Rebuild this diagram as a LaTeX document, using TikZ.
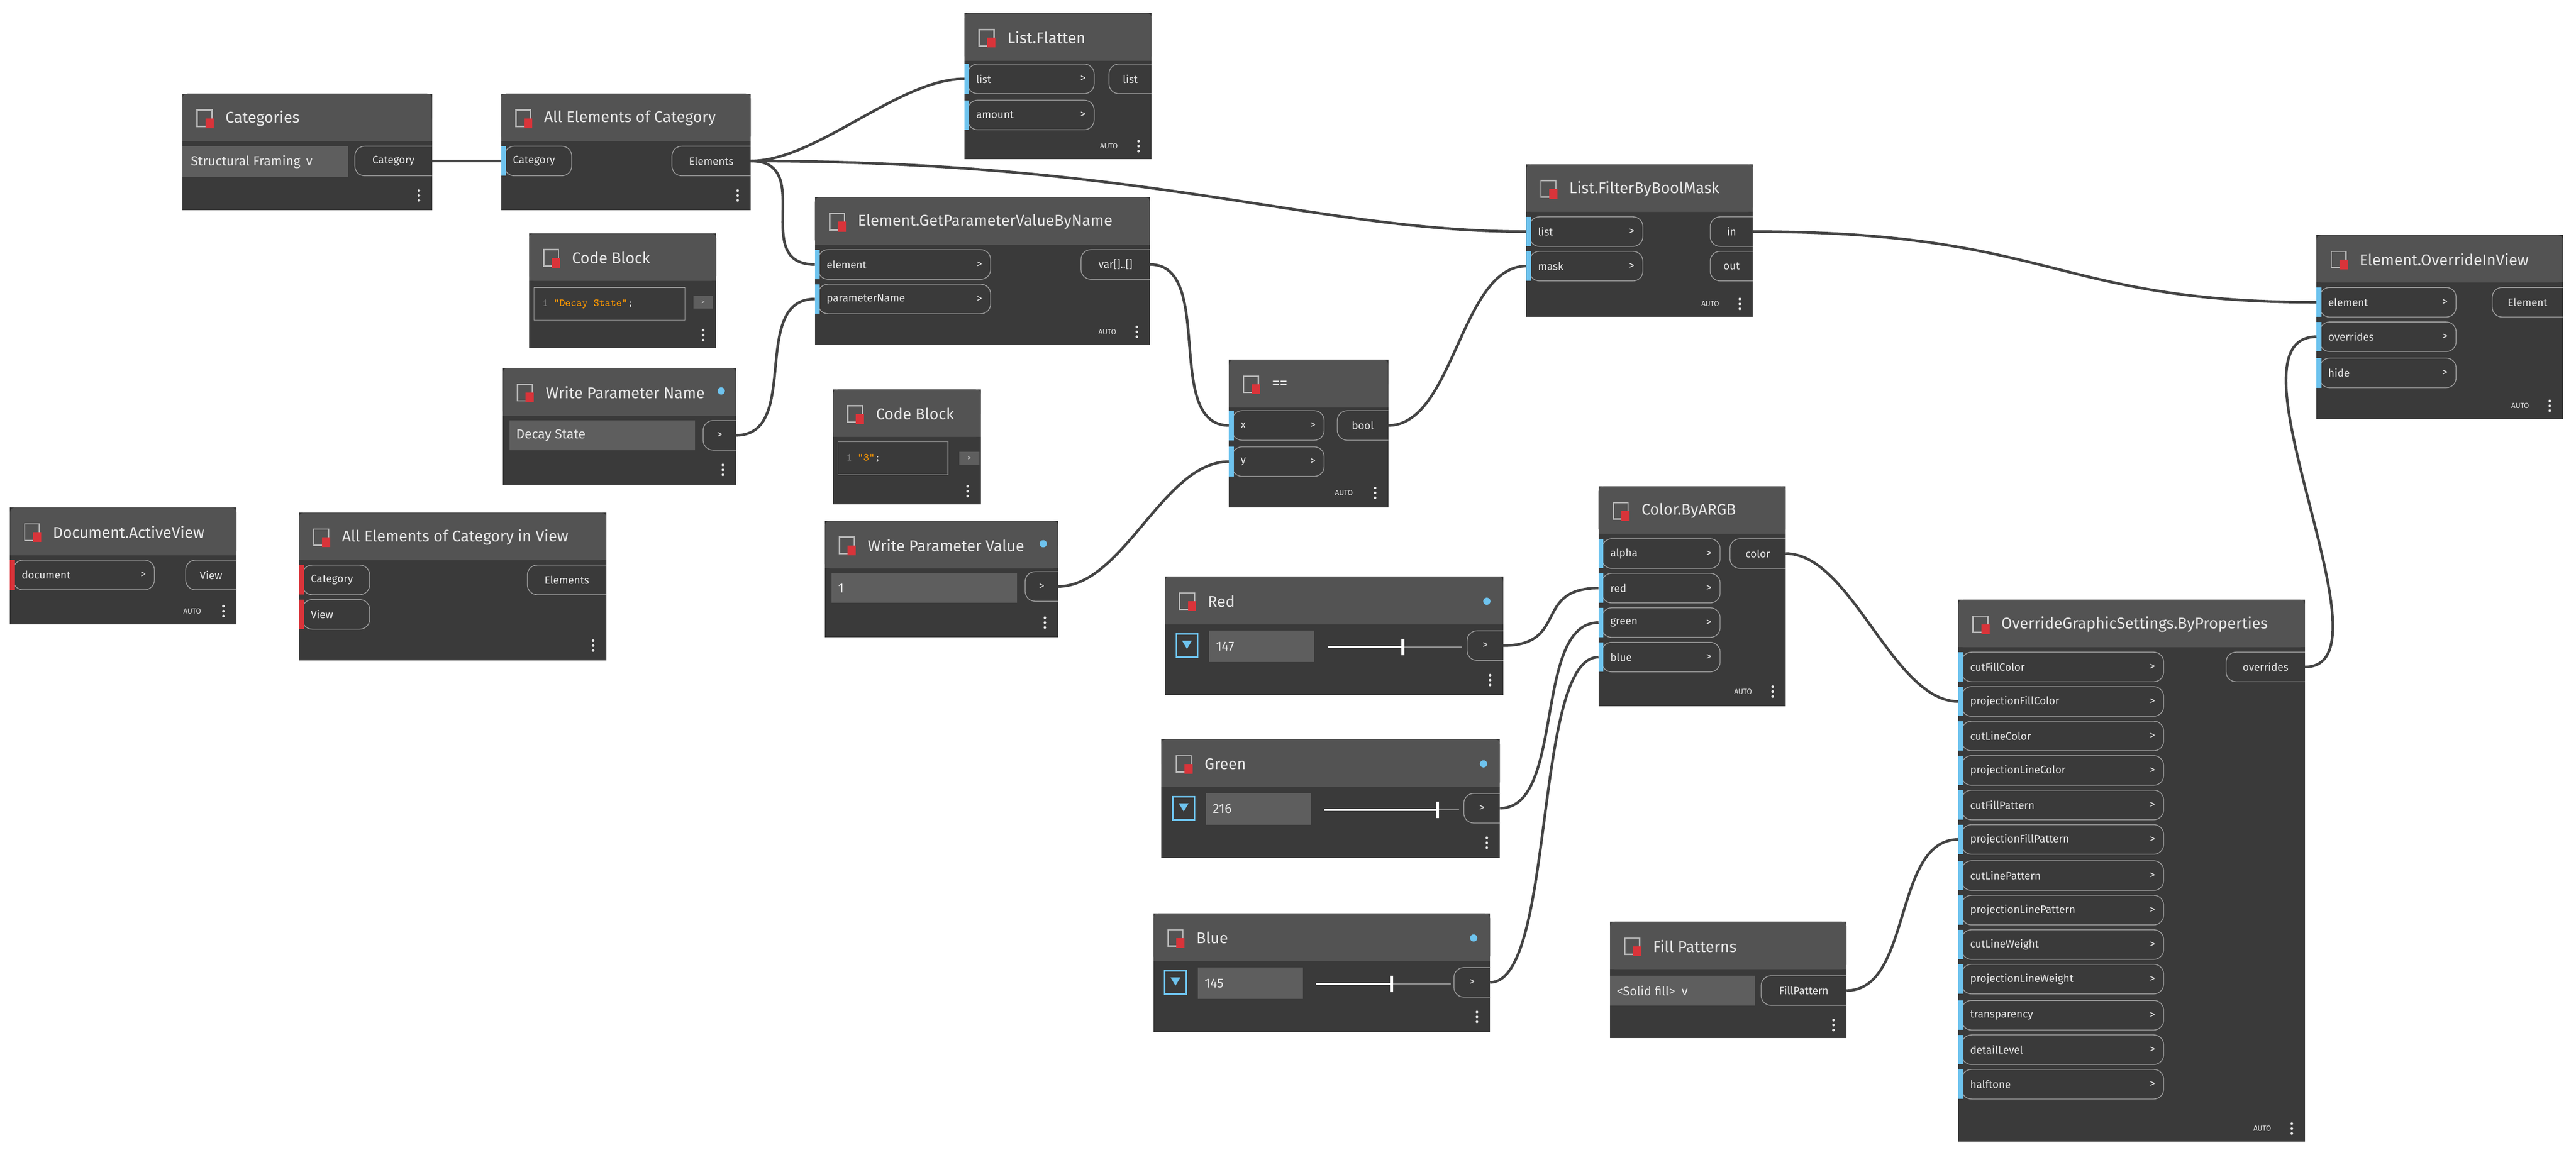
\documentclass[tikz,border=0pt]{standalone}
\usepackage{fontspec}
\setmainfont{Fira Sans}
\usetikzlibrary{calc}
\definecolor{body}{HTML}{3A3A3A}
\definecolor{head}{HTML}{535353}
\definecolor{txt}{HTML}{E6E6E6}
\definecolor{pill}{HTML}{9A9A9A}
\definecolor{port}{HTML}{6EC3EE}
\definecolor{wire}{HTML}{444444}
\definecolor{field}{HTML}{5E5E5E}
\definecolor{iconred}{HTML}{D9343A}
\tikzset{
 title/.style={anchor=west,text=txt,font=\fontsize{9.5}{10}\selectfont,inner sep=0},
 plab/.style={text=txt,font=\fontsize{6.5}{7}\selectfont,inner sep=0},
 pillst/.style={draw=pill,line width=0.5pt,rounded corners=6pt},
 wirest/.style={draw=wire,line width=1.6pt},
 autost/.style={text=txt,font=\fontsize{4.5}{5}\selectfont,inner sep=0},
}
\newcommand\dnode[6]{%
 \fill[body] (#2,#3) rectangle ++(#4,#5);
 \fill[head,rounded corners=3pt] (#2,#3) rectangle ++(#4,29);
 \fill[head] (#2,#3+15) rectangle ++(#4,14);
 \draw[txt!80!black,line width=0.8pt] (#2+9,#3+10) rectangle ++(9,10);
 \fill[iconred] (#2+14,#3+15) rectangle ++(5,6);
 \node[title] (#1) at (#2+26,#3+15) {#6};}
\newcommand\menudots[2]{\foreach \k in {-3,0,3}{\fill[txt] (#1,#2+\k) circle (0.8);}}
\newcommand\inport[5]{%
 \draw[pillst] (#2+2,#3-9) rectangle (#2+#4,#3+9);
 \fill[port] (#2,#3-9) rectangle ++(3,18);
 \node[plab,anchor=west] at (#2+7,#3) {#5};
 \node[plab,anchor=east] at (#2+#4-5,#3) {>};
 \coordinate (#1) at (#2,#3);}
\newcommand\inportb[5]{%
 \draw[pillst] (#2+2,#3-9) rectangle (#2+#4,#3+9);
 \fill[port] (#2,#3-9) rectangle ++(3,18);
 \node[plab,anchor=west] at (#2+7,#3) {#5};
 \coordinate (#1) at (#2,#3);}
\newcommand\inportr[5]{%
 \draw[pillst] (#2+2,#3-9) rectangle (#2+#4,#3+9);
 \fill[iconred] (#2,#3-9) rectangle ++(3,18);
 \node[plab,anchor=west] at (#2+7,#3) {#5};
 \coordinate (#1) at (#2,#3);}
\newcommand\inportrr[5]{%
 \draw[pillst] (#2+2,#3-9) rectangle (#2+#4,#3+9);
 \fill[iconred] (#2,#3-9) rectangle ++(3,18);
 \node[plab,anchor=west] at (#2+7,#3) {#5};
 \node[plab,anchor=east] at (#2+#4-5,#3) {>};
 \coordinate (#1) at (#2,#3);}
\newcommand\outport[5]{%
 \draw[pillst] (#2+6,#3-9) -- (#2-#4,#3-9) -- (#2-#4,#3+9) -- (#2+6,#3+9);
 \node[plab] at (#2-#4/2,#3) {#5};
 \coordinate (#1) at (#2,#3);}
\newcommand\wire[2]{\draw[wirest] (#1) .. controls ($(#1)+(40,0)$) and ($(#2)-(40,0)$) .. (#2);}
\begin{document}
\begin{tikzpicture}[x=1pt,y=-1pt]
\fill[white] (0,0) rectangle (1568,703);
\useasboundingbox (0,0) rectangle (1568,703);

\dnode{cat}{111}{57}{152}{71}{Categories}
\fill[field] (111,89) rectangle (212,108);
\node[plab,anchor=west,font=\fontsize{8}{8}\selectfont] at (116,98.5) {Structural Framing \,v};
\begin{scope}\clip (111,80) rectangle (263,120);
\outport{catO}{263}{98}{47}{Category}\end{scope}
\menudots{255}{119}

\dnode{aec}{305}{57}{152}{71}{All Elements of Category}
\begin{scope}\clip (305,80) rectangle (457,120);
\inportb{aecI}{305}{98}{43}{Category}
\outport{aecO}{457}{98}{48}{Elements}\end{scope}
\menudots{449}{119}

\dnode{fl}{587}{8}{114}{89}{List.Flatten}
\begin{scope}\clip (587,30) rectangle (701,97);
\inport{flI1}{587}{48}{79}{list}
\inport{flI2}{587}{70}{79}{amount}
\outport{flO}{701}{48}{26}{list}\end{scope}
\node[autost] at (675,89) {AUTO}; \menudots{693}{89}

\dnode{gp}{496}{120}{204}{90}{Element.GetParameterValueByName}
\begin{scope}\clip (496,140) rectangle (700,210);
\inport{gpI1}{496}{161}{107}{element}
\inport{gpI2}{496}{182}{107}{parameterName}
\outport{gpO}{700}{161}{42}{var[]..[]}\end{scope}
\node[autost] at (674,202) {AUTO}; \menudots{692}{202}

\dnode{cb1}{322}{142}{114}{70}{Code Block}
\draw[pill,fill=body] (325,175) rectangle (417,195);
\node[plab,anchor=west,font=\fontsize{6.5}{7}\ttfamily] at (330,185) {\textcolor{gray}{1} \textcolor{orange!80!yellow}{"Decay State"};};
\fill[field] (422,180) rectangle (434,188); \node[plab,font=\fontsize{4}{4}\selectfont] at (428,184) {>};
\menudots{428}{204}

\dnode{wpn}{306}{224}{142}{71}{Write Parameter Name}
\fill[port] (439,238) circle (2.2);
\fill[field] (310,256) rectangle (423,274);
\node[plab,anchor=west,font=\fontsize{8}{8}\selectfont] at (314,265) {Decay State};
\begin{scope}\clip (306,250) rectangle (448,285);
\outport{wpnO}{448}{265}{20}{>}\end{scope}
\menudots{440}{286}

\dnode{cb2}{507}{237}{90}{70}{Code Block}
\draw[pill,fill=body] (510,269) rectangle (577,289);
\node[plab,anchor=west,font=\fontsize{6.5}{7}\ttfamily] at (515,279) {\textcolor{gray}{1} \textcolor{orange!80!yellow}{"3"};};
\fill[field] (584,275) rectangle (596,283); \node[plab,font=\fontsize{4}{4}\selectfont] at (590,279) {>};
\menudots{589}{299}

\dnode{wpv}{502}{317}{142}{71}{Write Parameter Value}
\fill[port] (635,331) circle (2.2);
\fill[field] (506,349) rectangle (619,367);
\node[plab,anchor=west,font=\fontsize{8}{8}\selectfont] at (510,358) {1};
\begin{scope}\clip (502,340) rectangle (644,380);
\outport{wpvO}{644}{357}{20}{>}\end{scope}
\menudots{636}{379}

\dnode{eq}{748}{219}{97}{90}{==}
\begin{scope}\clip (748,240) rectangle (845,300);
\inport{eqI1}{748}{259}{58}{x}
\inport{eqI2}{748}{281}{58}{y}
\outport{eqO}{845}{259}{31}{bool}\end{scope}
\node[autost] at (818,300) {AUTO}; \menudots{837}{300}

\dnode{fb}{929}{100}{138}{93}{List.FilterByBoolMask}
\begin{scope}\clip (929,125) rectangle (1067,190);
\inport{fbI1}{929}{141}{71}{list}
\inport{fbI2}{929}{162}{71}{mask}
\outport{fbO1}{1067}{141}{26}{in}
\outport{fbO2}{1067}{162}{26}{out}\end{scope}
\node[autost] at (1041,185) {AUTO}; \menudots{1059}{185}

\dnode{ov}{1410}{143}{150}{112}{Element.OverrideInView}
\begin{scope}\clip (1410,165) rectangle (1560,245);
\inport{ovI1}{1410}{184}{85}{element}
\inport{ovI2}{1410}{205}{85}{overrides}
\inport{ovI3}{1410}{227}{85}{hide}
\outport{ovO}{1560}{184}{43}{Element}\end{scope}
\node[autost] at (1534,247) {AUTO}; \menudots{1552}{247}

\dnode{dav}{6}{309}{138}{71}{Document.ActiveView}
\begin{scope}\clip (6,330) rectangle (144,375);
\inportrr{davI}{6}{350}{88}{document}
\outport{davO}{144}{350}{31}{View}\end{scope}
\node[autost] at (117,372) {AUTO}; \menudots{136}{372}

\dnode{aev}{182}{312}{187}{90}{All Elements of Category in View}
\begin{scope}\clip (182,335) rectangle (369,395);
\inportr{aevI1}{182}{353}{43}{Category}
\inportr{aevI2}{182}{374}{43}{View}
\outport{aevO}{369}{353}{48}{Elements}\end{scope}
\menudots{361}{393}

\dnode{col}{973}{296}{114}{134}{Color.ByARGB}
\begin{scope}\clip (973,320) rectangle (1087,420);
\inport{colI1}{973}{337}{74}{alpha}
\inport{colI2}{973}{358}{74}{red}
\inport{colI3}{973}{379}{74}{green}
\inport{colI4}{973}{400}{74}{blue}
\outport{colO}{1087}{337}{34}{color}\end{scope}
\node[autost] at (1061,421) {AUTO}; \menudots{1079}{421}

\newcommand\slider[7]{%
 \dnode{#1}{#2}{#3}{#4}{72}{#5}
 \fill[port] (#2+#4-10,#3+15) circle (2.2);
 \draw[port,line width=1pt] (#2+7,#3+35) rectangle ++(13,14);
 \fill[port] (#2+10.5,#3+39) -- (#2+16.5,#3+39) -- (#2+13.5,#3+44) -- cycle;
 \fill[field] (#2+27,#3+33) rectangle ++(64,19);
 \node[plab,anchor=west,font=\fontsize{8}{8}\selectfont] at (#2+31,#3+42.5) {#6};
 \draw[pill,line width=0.6pt] (#2+99,#3+43) -- (#2+181,#3+43);
 \draw[white,line width=1.2pt] (#2+99,#3+43) -- (#7,#3+43);
 \draw[white,line width=1.8pt] (#7,#3+38) -- (#7,#3+48);
 \begin{scope}\clip (#2,#3+30) rectangle (#2+#4,#3+60);
 \outport{#1O}{#2+#4}{#3+42}{22}{>}\end{scope}
 \menudots{#2+#4-8}{#3+63}}
\slider{red}{709}{351}{206}{Red}{147}{854}
\slider{grn}{707}{450}{206}{Green}{216}{875}
\slider{blu}{702}{556}{205}{Blue}{145}{847}

\dnode{fp}{980}{561}{144}{71}{Fill Patterns}
\fill[field] (980,594) rectangle (1068,612);
\node[plab,anchor=west,font=\fontsize{7.5}{8}\selectfont] at (984,603) {<Solid fill> \ v};
\begin{scope}\clip (980,585) rectangle (1124,620);
\outport{fpO}{1124}{603}{52}{FillPattern}\end{scope}
\menudots{1116}{624}

\dnode{ogs}{1192}{365}{211}{330}{OverrideGraphicSettings.ByProperties}
\begin{scope}\clip (1192,390) rectangle (1403,680);
\foreach \lab/\yy/\i in {cutFillColor/406/1,projectionFillColor/427/2,cutLineColor/448/3,projectionLineColor/469/4,cutFillPattern/490/5,projectionFillPattern/511/6,cutLinePattern/533/7,projectionLinePattern/554/8,cutLineWeight/575/9,projectionLineWeight/596/10,transparency/618/11,detailLevel/639/12,halftone/660/13}{\inport{ogsI\i}{1192}{\yy}{125}{\lab}}
\outport{ogsO}{1403}{406}{48}{overrides}\end{scope}
\node[autost] at (1377,687) {AUTO}; \menudots{1395}{687}

\wire{catO}{aecI}
\wire{aecO}{flI1}
\wire{aecO}{gpI1}
\draw[wirest] (aecO) .. controls (700,98) and (800,141) .. (fbI1);
\wire{wpnO}{gpI2}
\wire{gpO}{eqI1}
\wire{wpvO}{eqI2}
\wire{eqO}{fbI2}
\draw[wirest] (fbO1) .. controls (1250,141) and (1250,184) .. (ovI1);
\draw[wirest] (ogsO) .. controls (1460,406) and (1350,205) .. (ovI2);
\wire{redO}{colI2}
\wire{grnO}{colI3}
\wire{bluO}{colI4}
\wire{colO}{ogsI2}
\wire{fpO}{ogsI6}
\end{tikzpicture}
\end{document}
